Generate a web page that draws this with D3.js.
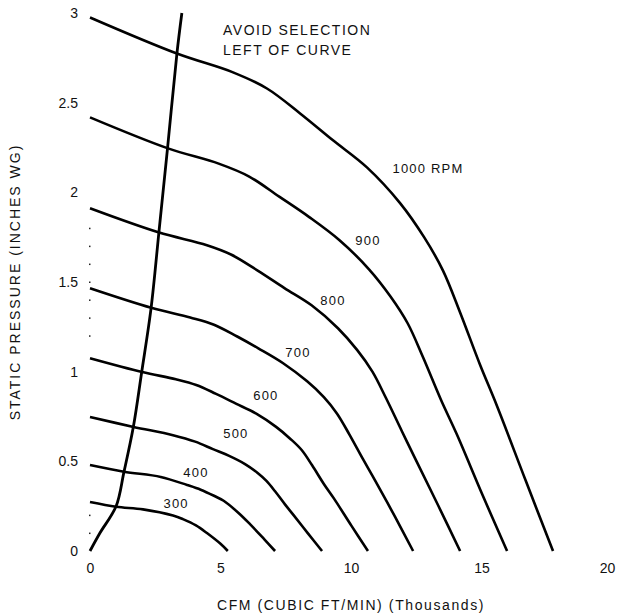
<!DOCTYPE html>
<html>
<head>
<meta charset="utf-8">
<script src="https://cdn.jsdelivr.net/npm/d3@7"></script>
<style>
    body { margin: 0; background: #fff; }
    text { font-family: "Liberation Sans", Arial, sans-serif; fill: #111; }
</style>
</head>
<body>
<script>
// fan curves, [cfm (thousands), static pressure (in. wg)]
const rpm300 = [[0, 0.273], [1.0, 0.247], [2.03, 0.232], [3.18, 0.198], [3.56, 0.178], [4.06, 0.143], [4.48, 0.10], [5.0, 0.04], [5.28, 0]];
const rpm400 = [[0, 0.479], [1.30, 0.442], [2.71, 0.413], [3.72, 0.368], [4.24, 0.342], [4.75, 0.308], [5.12, 0.28], [5.67, 0.215], [6.13, 0.15], [6.68, 0.065], [7.09, 0]];
const rpm500 = [[0, 0.747], [1.67, 0.692], [3.18, 0.646], [4.03, 0.61], [4.71, 0.568], [5.31, 0.532], [5.94, 0.485], [6.40, 0.438], [6.76, 0.391], [7.09, 0.333], [7.47, 0.26], [7.80, 0.20], [8.35, 0.098], [8.89, 0]];
const rpm600 = [[0, 1.075], [2.0, 0.998], [3.29, 0.958], [4.07, 0.926], [4.83, 0.876], [5.59, 0.822], [6.37, 0.766], [7.13, 0.692], [7.68, 0.625], [8.11, 0.563], [8.51, 0.478], [8.96, 0.374], [9.35, 0.292], [10.02, 0.14], [10.65, 0]];
const rpm700 = [[0, 1.465], [2.35, 1.356], [3.84, 1.302], [4.75, 1.262], [5.64, 1.196], [6.45, 1.13], [7.40, 1.047], [8.32, 0.946], [8.96, 0.858], [9.46, 0.767], [9.93, 0.652], [10.46, 0.512], [10.91, 0.397], [11.69, 0.19], [12.38, 0]];
const rpm800 = [[0, 1.911], [2.62, 1.777], [4.48, 1.705], [5.42, 1.652], [6.44, 1.562], [7.45, 1.466], [8.49, 1.37], [9.50, 1.242], [10.24, 1.12], [10.82, 1.0], [11.34, 0.853], [11.95, 0.668], [12.47, 0.512], [13.36, 0.248], [14.18, 0]];
const rpm900 = [[0, 2.418], [2.99, 2.245], [4.93, 2.16], [6.10, 2.088], [7.25, 1.976], [8.40, 1.862], [9.56, 1.733], [10.69, 1.571], [11.52, 1.418], [12.17, 1.27], [12.76, 1.08], [13.45, 0.842], [14.05, 0.652], [15.04, 0.312], [15.98, 0]];
const rpm1000 = [[0, 2.975], [3.33, 2.774], [5.48, 2.669], [6.78, 2.579], [8.05, 2.44], [9.31, 2.29], [10.61, 2.139], [11.88, 1.94], [12.80, 1.75], [13.52, 1.565], [14.18, 1.33], [14.94, 1.04], [15.59, 0.81], [16.70, 0.39], [17.74, 0]];

// stall line ("avoid selection left of curve")
const stallLine = [[0, 0], [0.38, 0.1], [1.0, 0.25], [1.30, 0.44], [1.66, 0.691], [1.98, 0.997], [2.34, 1.354], [2.64, 1.777], [2.97, 2.245], [3.33, 2.774], [3.52, 3.0]];

const curves = [rpm300, rpm400, rpm500, rpm600, rpm700, rpm800, rpm900, rpm1000];
const curveNames = ["300", "400", "500", "600", "700", "800", "900", "1000 RPM"];
// where each name sits, in data units [cfm, pressure]
const curveNameAt = [[3.30, 0.267], [4.06, 0.435], [5.59, 0.657], [6.74, 0.869], [7.97, 1.109], [9.31, 1.398], [10.65, 1.733], [12.95, 2.134]];

const xTicks = [0, 5, 10, 15, 20];
const xTickLabels = ["0", "5", "10", "15", "20"];
const yTicks = [0, 0.5, 1, 1.5, 2, 2.5, 3];
const yTickLabels = ["0", "0.5", "1", "1.5", "2", "2.5", "3"];
const yMinorDots = [0.1, 0.2, 1.2, 1.3, 1.4, 1.5, 1.6, 1.7, 1.8];

const noteLines = ["AVOID SELECTION", "LEFT OF CURVE"];

const W = 618, H = 615;

const svg = d3.select("body").append("svg").attr("width", W).attr("height", H);
svg.append("rect").attr("width", W).attr("height", H).attr("fill", "#fff");

const x = d3.scaleLinear().domain([0, 20]).range([90, 612]);
const y = d3.scaleLinear().domain([0, 3]).range([551, 13]);

const line = d3.line()
    .x(function(d) { return x(d[0]); })
    .y(function(d) { return y(d[1]); })
    .curve(d3.curveCatmullRom.alpha(0.5));

//the fan curves
svg.append("g").selectAll("path")
    .data(curves).enter()
    .append("path")
    .attr("d", line)
    .attr("fill", "none")
    .attr("stroke", "#000")
    .attr("stroke-width", 2.6)
    .attr("stroke-linejoin", "round");

svg.append("path")
    .datum(stallLine)
    .attr("d", line)
    .attr("fill", "none")
    .attr("stroke", "#000")
    .attr("stroke-width", 2.8);

//rpm names on the curves
svg.append("g").selectAll("text")
    .data(curveNames).enter()
    .append("text")
    .attr("x", function(d, i) { return x(curveNameAt[i][0]); })
    .attr("y", function(d, i) { return y(curveNameAt[i][1]); })
    .attr("text-anchor", "middle")
    .attr("dominant-baseline", "central")
    .attr("font-size", 13)
    .attr("letter-spacing", 1.2)
    .text(function(d) { return d; });

// x axis: labels only, no line
const xAxis = d3.axisBottom(x).tickValues(xTicks)
    .tickFormat(function(d, i) { return xTickLabels[i]; })
    .tickSize(0).tickPadding(12);
const gx = svg.append("g").attr("transform", "translate(0," + 551 + ")").call(xAxis);
gx.select(".domain").remove();
gx.selectAll("text").attr("font-size", 14).attr("font-family", null).attr("fill", "#111");
// last label sits at the right edge, pull it in a bit
gx.selectAll("text").filter(function(d) { return d == 20; }).attr("dx", -5);

// y axis: labels only
const yAxis = d3.axisLeft(y).tickValues(yTicks)
    .tickFormat(function(d, i) { return yTickLabels[i]; })
    .tickSize(0).tickPadding(12);
const gy = svg.append("g").attr("transform", "translate(" + 90 + ",0)").call(yAxis);
gy.select(".domain").remove();
gy.selectAll("text").attr("font-size", 14).attr("font-family", null).attr("fill", "#111");

// little minor dots on the y axis
svg.append("g").selectAll("rect")
    .data(yMinorDots).enter()
    .append("rect")
    .attr("x", x(0) - 1)
    .attr("y", function(d) { return y(d) - 0.5; })
    .attr("width", 1.5).attr("height", 1.5)
    .attr("fill", "#222");

//axis titles
svg.append("text")
    .attr("x", 351).attr("y", 605)
    .attr("text-anchor", "middle")
    .attr("dominant-baseline", "central")
    .attr("font-size", 14)
    .attr("letter-spacing", 1.6)
    .text("CFM (CUBIC FT/MIN) (Thousands)");

svg.append("text")
    .attr("transform", "translate(15,282) rotate(-90)")
    .attr("text-anchor", "middle")
    .attr("dominant-baseline", "central")
    .attr("font-size", 14)
    .attr("letter-spacing", 2)
    .text("STATIC PRESSURE (INCHES WG)");

// the note next to the stall line
svg.append("g").selectAll("text")
    .data(noteLines).enter()
    .append("text")
    .attr("x", 223)
    .attr("y", function(d, i) { return 35 + i * 20; })
    .attr("font-size", 14)
    .attr("letter-spacing", 1.5)
    .text(function(d) { return d; });
</script>
</body>
</html>
